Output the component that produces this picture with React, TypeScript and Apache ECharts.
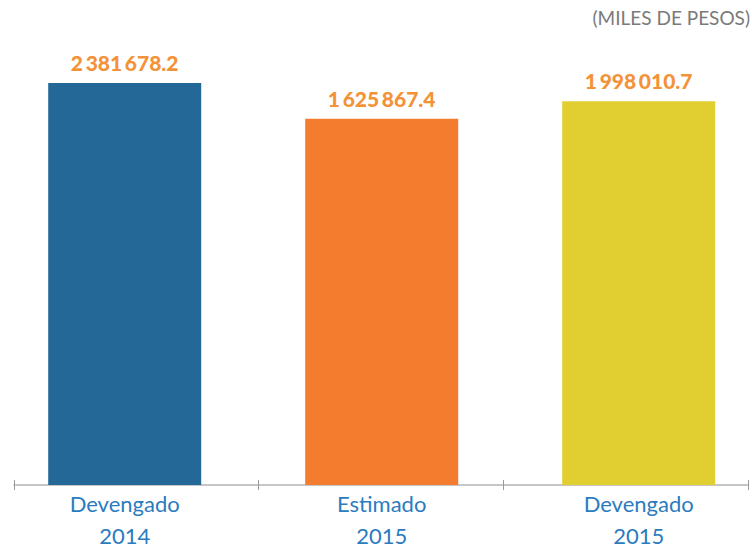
import React, { useEffect, useRef } from "react";
import * as echarts from "echarts";

const categories = ["Devengado\n2014", "Estimado\n2015", "Devengado\n2015"];
const values = [2381678.2, 1625867.4, 1998010.7];
const barColors = ["#236896", "#f47c2e", "#e1cf31"];
const unitLabel = "(MILES DE PESOS)";
// the picture's value axis does not start at zero
const axisMin = -6121600;
const axisMax = 3292600;
const barWidth = 153;

function fmt(v: number): string {
  const [i, d] = v.toFixed(1).split(".");
  const groups: string[] = [];
  for (let k = i.length; k > 0; k -= 3) groups.unshift(i.slice(Math.max(0, k - 3), k));
  return groups.join("\u2009") + "." + d;
}

export default function App() {
  const ref = useRef<HTMLDivElement>(null);
  useEffect(() => {
    if (!ref.current) return;
    const chart = echarts.init(ref.current, null, { renderer: "svg" });
    chart.setOption({
      animation: false,
      graphic: [
        {
          type: "text",
          right: 2,
          top: 8,
          style: {
            text: unitLabel,
            fill: "#7a7a7a",
            font: "19px Lato",
          },
        },
      ],
      grid: [
        { left: 124.7, right: 113.3, top: 40, bottom: 62, outerBoundsMode: "none", containLabel: false },
        { left: 14, right: 4, top: 40, bottom: 62, outerBoundsMode: "none", containLabel: false },
      ],
      xAxis: [
        {
          type: "category",
          gridIndex: 0,
          data: categories,
          boundaryGap: false,
          axisLine: { show: false, onZero: false },
          axisTick: { show: false },
          axisLabel: {
            margin: 2,
            fontSize: 22,
            lineHeight: 32,
            color: "#2b7bbf",
            fontFamily: "Lato",
          },
        },
        {
          type: "value",
          gridIndex: 1,
          min: 0,
          max: 3,
          interval: 1,
          axisLine: { show: true, onZero: false, lineStyle: { color: "#b4b4b4", width: 1.5 } },
          axisTick: { show: true, inside: false, length: 5, lineStyle: { color: "#9a9a9a" } },
          axisLabel: { show: false },
          splitLine: { show: false },
        },
        {
          type: "value",
          gridIndex: 1,
          position: "bottom",
          min: 0,
          max: 3,
          interval: 1,
          axisLine: { show: false, onZero: false },
          axisTick: { show: true, inside: true, length: 5, lineStyle: { color: "#9a9a9a" } },
          axisLabel: { show: false },
          splitLine: { show: false },
        },
      ],
      yAxis: [
        {
          type: "value",
          gridIndex: 0,
          min: axisMin,
          max: axisMax,
          show: false,
          axisLine: { onZero: false },
          splitLine: { show: false },
        },
        {
          type: "value",
          gridIndex: 1,
          min: 0,
          max: 1,
          show: false,
          axisLine: { onZero: false },
          splitLine: { show: false },
        },
      ],
      series: [
        {
          type: "custom",
          xAxisIndex: 0,
          yAxisIndex: 0,
          data: values.map((v, i) => [i, v]),
          z: 2,
          renderItem: (params: any, api: any) => {
            const idx = api.value(0);
            const v = api.value(1);
            const top = api.coord([idx, v]);
            const base = api.coord([idx, axisMin]);
            return {
              type: "rect",
              shape: {
                x: top[0] - barWidth / 2,
                y: top[1],
                width: barWidth,
                height: base[1] - top[1],
              },
              style: { fill: barColors[params.dataIndex] },
              textContent: {
                style: {
                  text: fmt(v),
                  fill: "#f39237",
                  fontSize: 21,
                  fontWeight: 900,
                  fontFamily: "Lato",
                },
              },
              textConfig: { position: "top", distance: 10 },
            };
          },
        },
      ],
    });
    return () => chart.dispose();
  }, []);
  return <div ref={ref} style={{ width: 752, height: 547, position: "absolute", left: 0, top: 0 }} />;
}
